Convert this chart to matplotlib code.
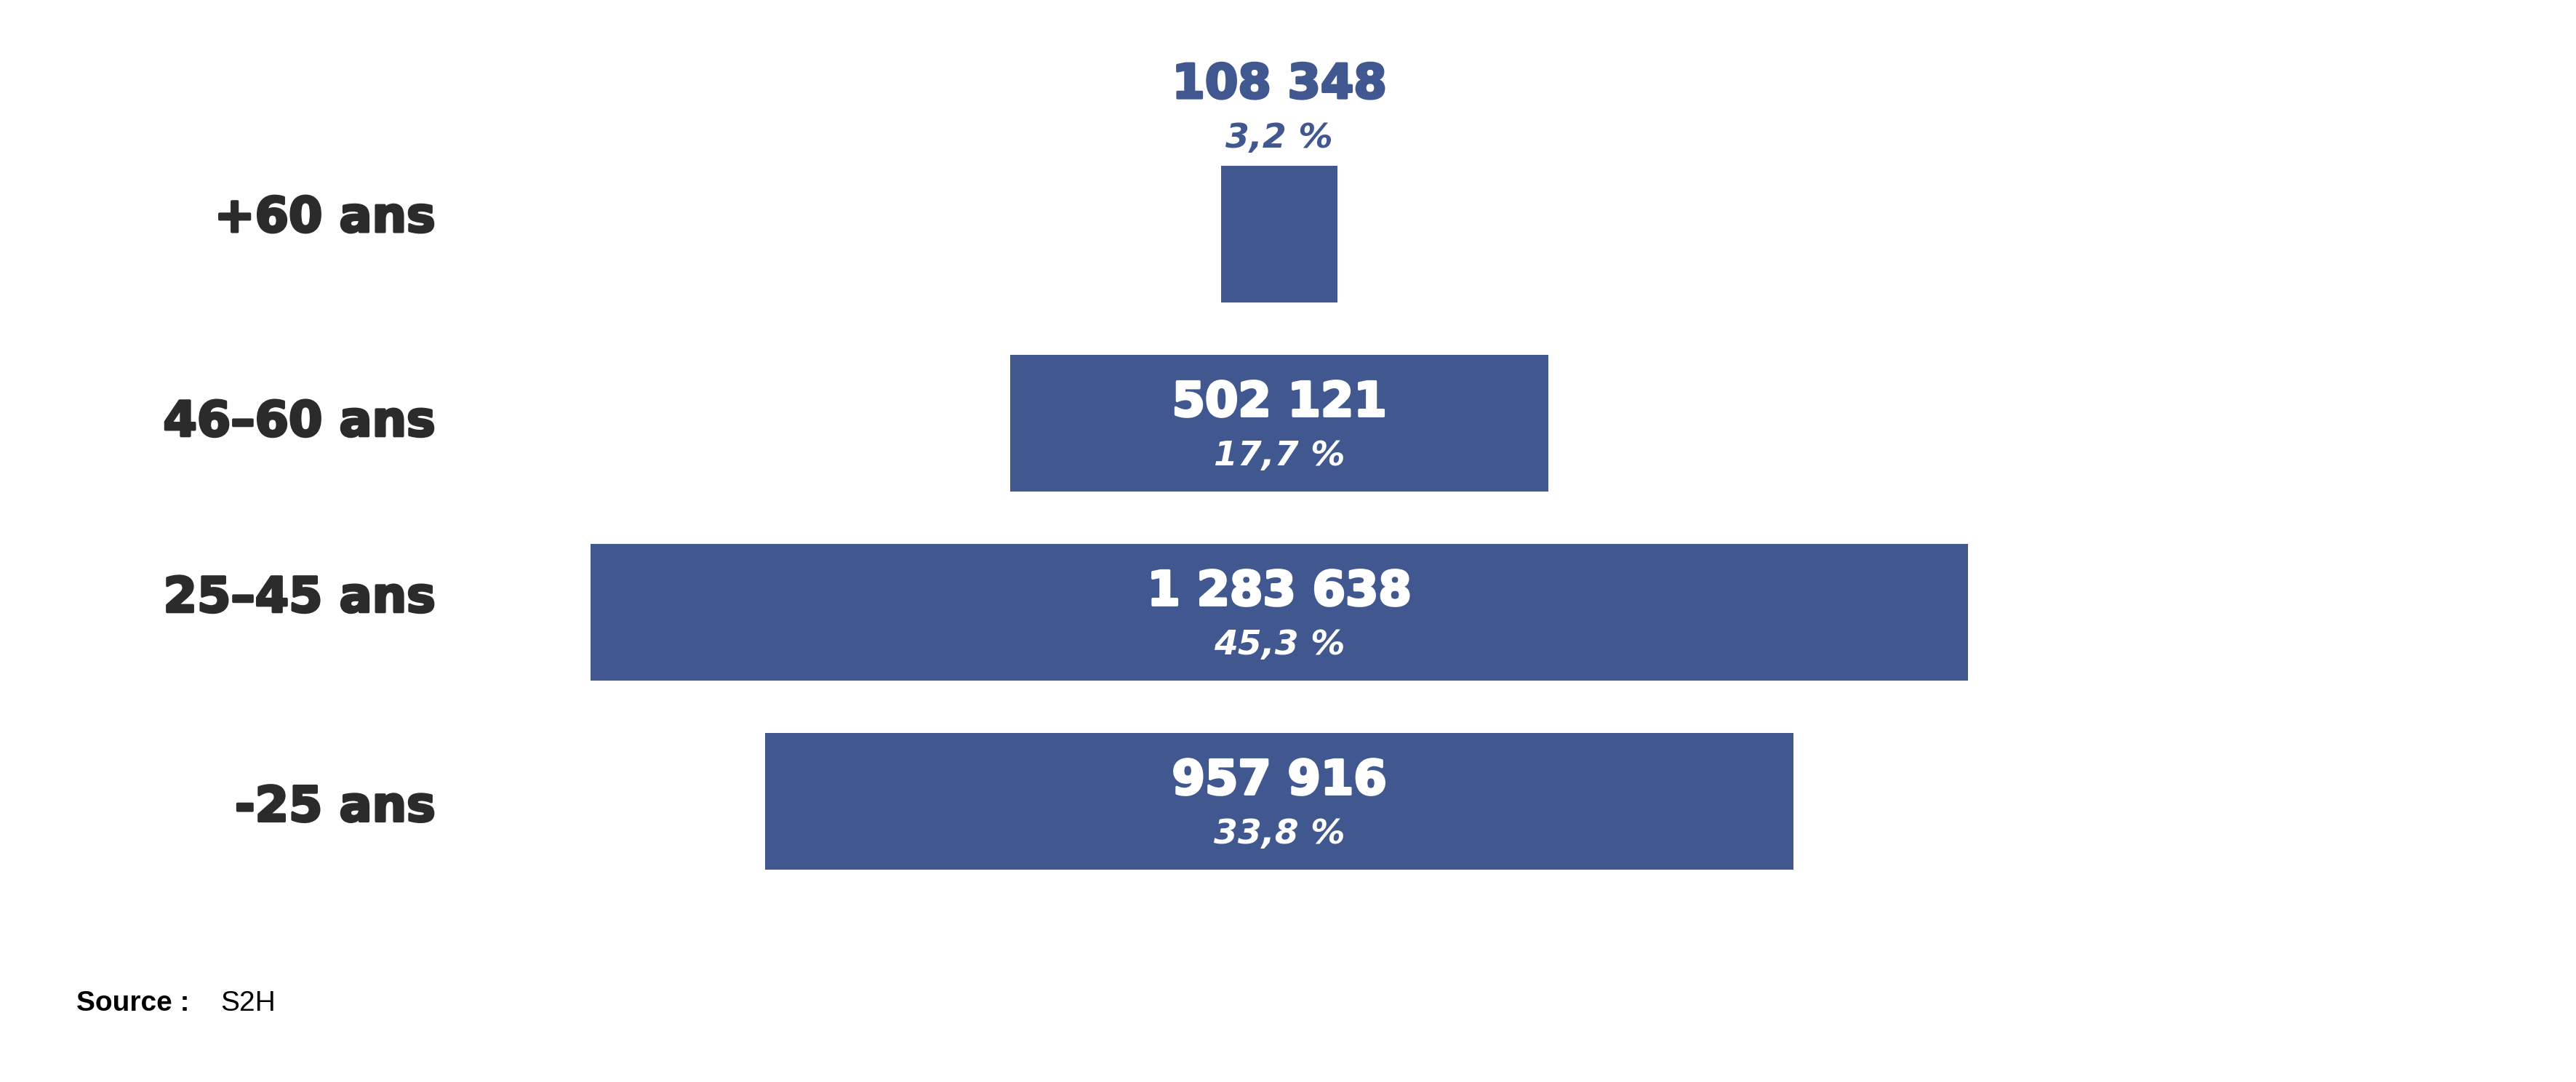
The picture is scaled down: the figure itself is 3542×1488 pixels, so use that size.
import numpy as np
import matplotlib.pyplot as plt
import matplotlib.patheffects as pe

# data, bottom to top
categories = ["-25 ans", "25–45 ans", "46–60 ans", "+60 ans"]
effectifs = [957916, 1283638, 502121, 108348]
parts = [33.8, 45.3, 17.7, 3.2]

BLUE = "#41578f"
DARK = "#2b2b2b"
FONT = "DejaVu Sans"
# small vertical nudges of the category labels (points)
label_dy = [-6, 14, 1, 16]

W, H = 3542, 1488
fig = plt.figure(figsize=(W / 100, H / 100), dpi=100)
ax = fig.add_axes([0, 0, 1, 1])

# pyramid: bars centred on zero
vals = np.array(effectifs, dtype=float)
pos = np.arange(len(categories))
ax.barh(pos, vals, left=-vals / 2, height=0.723, color=BLUE)

# scale so the widest bar spans ~1894 px, centre at x=1759 px
px_per_unit = 1894 / vals.max()
ax.set_xlim(-1759 / px_per_unit, (W - 1759) / px_per_unit)
ax.set_ylim(-386 / 260, (H - 386) / 260)
ax.axis("off")

def fmt(v):
    return f"{v:,}".replace(",", " ")

def heavy(c):
    # thicken the bold face a bit
    return [pe.withStroke(linewidth=2.5, foreground=c)]

for p, v, pc, cat, dy in zip(pos, effectifs, parts, categories, label_dy):
    ax.annotate(cat, (0.169, p), xycoords=ax.get_yaxis_transform(),
                xytext=(0, dy), textcoords="offset points", ha="right",
                va="center", fontsize=48, fontweight="bold", color=DARK,
                family=FONT, path_effects=heavy(DARK))
    pct = f"{pc:.1f} %".replace(".", ",")
    if v * px_per_unit > 400:
        ax.annotate(fmt(v), (0, p), xytext=(0, 20), textcoords="offset points",
                    ha="center", va="center", fontsize=47, fontweight="bold",
                    color="white", family=FONT, path_effects=heavy("white"))
        ax.annotate(pct, (0, p), xytext=(0, -33), textcoords="offset points",
                    ha="center", va="center", fontsize=34, fontweight="bold",
                    style="italic", color="white", family=FONT)
    else:
        top = p + 0.723 / 2
        ax.annotate(fmt(v), (0, top), xytext=(0, 80), textcoords="offset points",
                    ha="center", va="center", fontsize=47, fontweight="bold",
                    color=BLUE, family=FONT, path_effects=heavy(BLUE))
        ax.annotate(pct, (0, top), xytext=(0, 27), textcoords="offset points",
                    ha="center", va="center", fontsize=34, fontweight="bold",
                    style="italic", color=BLUE, family=FONT)

fig.text(105 / W, 1 - 1380 / H, "Source :", ha="left", va="center",
         fontsize=28, fontweight="bold", color="black", family="Liberation Sans")
fig.text(303 / W, 1 - 1380 / H, "S2H", ha="left", va="center",
         fontsize=28, color="black", family="Liberation Sans")

fig.savefig("out.png", dpi=100, facecolor="white")
